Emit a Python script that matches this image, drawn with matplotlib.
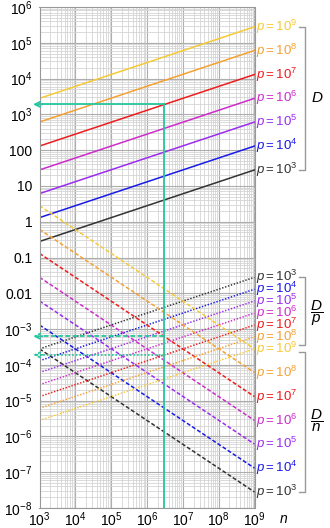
import matplotlib.pyplot as plt
from matplotlib.ticker import LogLocator, FixedLocator, NullFormatter
import matplotlib.transforms as mtransforms
import numpy as np

plt.rcParams['font.family'] = ['Liberation Sans', 'DejaVu Sans']
plt.rcParams['mathtext.fontset'] = 'custom'
plt.rcParams['mathtext.rm'] = 'Liberation Sans'
plt.rcParams['mathtext.it'] = 'Liberation Sans:italic'

# data: value of each line at n = 1e3 and n = 1e9
n_ends = [1e3, 1e9]
p_exps = [3, 4, 5, 6, 7, 8, 9]
colors = ['#333333', '#1a1ae6', '#9a2cf0', '#cc2ccc', '#ee1c1c', '#f5a033', '#f7c936']
D_start = [0.28, 1.3, 6.1, 28, 130, 610, 2800]
D_end = [28, 130, 610, 2800, 13000, 61000, 280000]
Dp_start = [2.8e-4, 1.3e-4, 6.1e-5, 2.8e-5, 1.3e-5, 6.1e-6, 2.8e-6]
Dp_end = [2.8e-2, 1.3e-2, 6.1e-3, 2.8e-3, 1.3e-3, 6.1e-4, 2.8e-4]
Dn_start = [2.8e-4, 1.3e-3, 6.1e-3, 2.8e-2, 0.13, 0.61, 2.8]
Dn_end = [2.8e-8, 1.3e-7, 6.1e-7, 2.8e-6, 1.3e-5, 6.1e-5, 2.8e-4]

# worked example (green)
n_ex = 3e6
D_ex = 1900
Dn_ex = 6.3e-4
Dp_ex = 1.9e-4
ex_color = '#26c79e'

y_ticks = [1e-8, 1e-7, 1e-6, 1e-5, 1e-4, 1e-3, 1e-2, 1e-1, 1, 10, 100, 1e3, 1e4, 1e5, 1e6]
y_labels = [r'$10^{-8}$', r'$10^{-7}$', r'$10^{-6}$', r'$10^{-5}$', r'$10^{-4}$', r'$10^{-3}$',
            '0.01', '0.1', '1', '10', '100', r'$10^{3}$', r'$10^{4}$', r'$10^{5}$', r'$10^{6}$']
x_ticks = [1e3, 1e4, 1e5, 1e6, 1e7, 1e8, 1e9]
x_labels = [r'$10^{%d}$' % k for k in range(3, 10)]

fig = plt.figure(figsize=(3.3, 5.28), dpi=100)
ax = fig.add_axes([39.5 / 330, 1 - 508 / 528, 215 / 330, 501 / 528])
ax.set_xscale('log')
ax.set_yscale('log')
ax.set_xlim(1e3, 1e9)
ax.set_ylim(1e-8, 1e6)

ax.xaxis.set_major_locator(FixedLocator(x_ticks))
ax.yaxis.set_major_locator(FixedLocator(y_ticks))
ax.xaxis.set_minor_locator(LogLocator(base=10, subs=np.arange(2, 10), numticks=100))
ax.yaxis.set_minor_locator(LogLocator(base=10, subs=np.arange(2, 10), numticks=100))
ax.xaxis.set_minor_formatter(NullFormatter())
ax.yaxis.set_minor_formatter(NullFormatter())
ax.set_xticklabels(x_labels)
ax.set_yticklabels(y_labels)
ax.tick_params(which='both', length=0, labelsize=10)
ax.tick_params(axis='y', pad=5)
ax.tick_params(axis='x', pad=1.5)
ax.grid(which='minor', color='#d4d4d4', lw=0.6)
ax.grid(which='major', color='#adadad', lw=0.8)
ax.set_axisbelow(True)
for s in ax.spines.values():
    s.set_color('#999999')
    s.set_linewidth(0.8)

lw = 1.1
for i in range(len(p_exps)):
    c = colors[i]
    ax.plot(n_ends, [D_start[i], D_end[i]], color=c, lw=lw)
    ax.plot(n_ends, [Dp_start[i], Dp_end[i]], color=c, lw=lw, linestyle=(0, (0.9, 1.1)))
    ax.plot(n_ends, [Dn_start[i], Dn_end[i]], color=c, lw=lw, linestyle=(0, (2.6, 1.4)))

# example lines
ax.plot([n_ex, n_ex], [D_ex, 1e-8], color=ex_color, lw=1.3)
ax.plot([n_ex, 1.05e3], [D_ex, D_ex], color=ex_color, lw=1.3, clip_on=False)
ax.plot([n_ex, 1.05e3], [Dn_ex, Dn_ex], color=ex_color, lw=1.3, linestyle=(0, (2.6, 1.4)), clip_on=False)
ax.plot([n_ex, 1.05e3], [Dp_ex, Dp_ex], color=ex_color, lw=1.3, linestyle=(0, (0.9, 1.1)), clip_on=False)
for yv, ls in [(D_ex, '-'), (Dn_ex, '--'), (Dp_ex, ':')]:
    ax.annotate('', xy=(6.6e2, yv), xytext=(1.2e3, yv), annotation_clip=False,
                arrowprops=dict(arrowstyle='->', color=ex_color, lw=1.3, linestyle=ls,
                                shrinkA=0, shrinkB=0, mutation_scale=9))

# right-hand labels
def plab(k, y, c):
    ax.text(1.1e9, y, r'$\mathit{p}\mathrm{=10^{%d}}$' % k, color=c, fontsize=9.5,
            ha='left', va='center', clip_on=False)

for i, k in enumerate(p_exps):
    plab(k, D_end[i], colors[i])
    plab(k, Dp_end[i], colors[i])
    if k < 9:
        plab(k, Dn_end[i], colors[i])

# brackets
tr = mtransforms.blended_transform_factory(ax.transAxes, ax.transData)
bx0, bx1 = 1.207, 1.235

def bracket(y0, y1, label, ym):
    ax.plot([bx0, bx1, bx1, bx0], [y0, y0, y1, y1], color='#999999', lw=1.0,
            transform=tr, clip_on=False)
    ax.text(1.29, ym, label, transform=tr, fontsize=11, ha='center', va='center')

bracket(D_end[-1], D_end[0], r'$\mathit{D}$', np.sqrt(D_end[-1] * D_end[0]))
bracket(Dp_end[0], Dp_end[-1] * 1.25, r'$\dfrac{\mathit{D}}{\mathit{p}}$',
        np.sqrt(Dp_end[0] * Dp_end[-1]))
bracket(Dn_end[-1] * 0.8, Dn_end[0], r'$\dfrac{\mathit{D}}{\mathit{n}}$',
        np.sqrt(Dn_end[-1] * Dn_end[0]))

ax.text(1.133, -0.022, r'$\mathit{n}$', transform=ax.transAxes, fontsize=10,
        ha='center', va='center')

fig.savefig('out.png', dpi=100)
